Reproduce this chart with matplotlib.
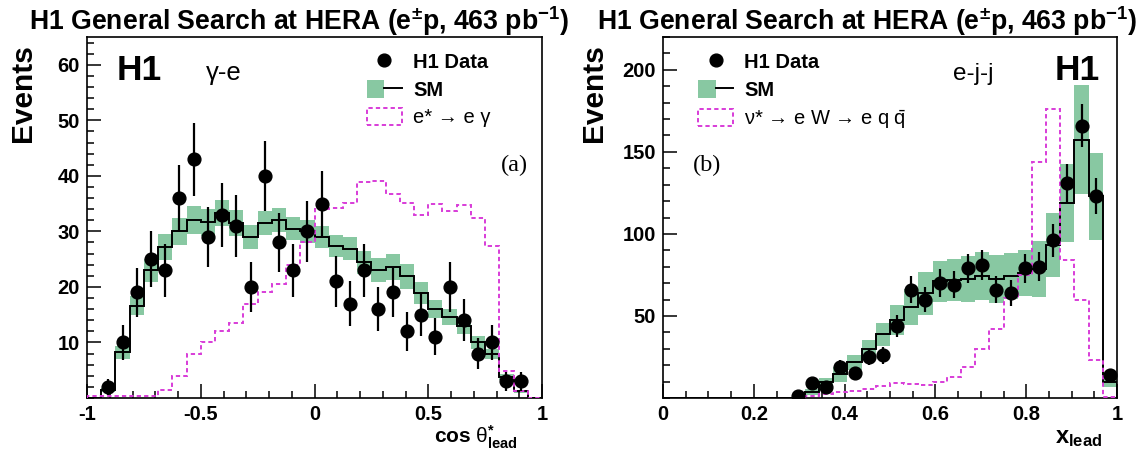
import numpy as np
import matplotlib
matplotlib.use('Agg')
import matplotlib.pyplot as plt
from matplotlib.patches import Patch
from matplotlib.lines import Line2D
from matplotlib.legend_handler import HandlerTuple
from matplotlib.ticker import MultipleLocator, FixedLocator

plt.rcParams['font.family'] = ['Liberation Sans', 'DejaVu Sans']
plt.rcParams['mathtext.fontset'] = 'custom'
plt.rcParams['mathtext.rm'] = 'Liberation Sans'
plt.rcParams['mathtext.it'] = 'Liberation Sans:italic'
plt.rcParams['mathtext.bf'] = 'Liberation Sans:bold'
plt.rcParams['mathtext.sf'] = 'Liberation Sans'

GREEN = '#88c8a2'
MAGENTA = '#d83cd8'

# ---------------- Panel (a): gamma-e, cos theta*_lead ----------------
a_edges = np.linspace(-1, 1, 33)
a_data = [0, 2, 10, 19, 25, 23, 36, 43, 29, 33, 31, 20, 40, 28, 23, 30,
          35, 21, 17, 23, 16, 19, 12, 15, 11, 20, 14, 8, 10, 3, 3, 0]
a_sm = [0, 1.4, 8.2, 16.6, 23.0, 27.2, 30.0, 32.0, 31.6, 33.3, 31.5, 29.0,
        31.5, 32.0, 30.5, 30.0, 29.0, 27.4, 26.9, 24.4, 23.0, 23.6, 21.9,
        18.9, 16.0, 14.6, 12.9, 10.0, 8.0, 3.8, 1.2, 0]
a_sm_err = [0, 0.4, 1.2, 1.7, 2.1, 2.4, 2.5, 2.5, 2.4, 2.3, 2.3, 2.2, 2.2,
            2.2, 2.1, 2.1, 2.0, 2.0, 2.0, 2.1, 2.2, 2.3, 2.2, 2.0, 1.6,
            1.4, 1.3, 1.1, 0.9, 0.5, 0.3, 0]
a_sig = [0.3, 0.3, 0.3, 0.3, 0.3, 1.5, 4.0, 8.0, 10.0, 12.0, 13.5, 17.0,
         19.0, 20.6, 24.0, 28.0, 34.0, 34.3, 35.1, 38.9, 39.0, 36.8, 35.1,
         33.0, 35.0, 33.6, 34.8, 32.4, 27.4, 4.8, 1.2, 0]

# ---------------- Panel (b): e-j-j, x_lead ----------------
b_edges = np.linspace(0, 1, 33)
b_data = [0, 0, 0, 0, 0, 0, 0, 0, 0, 1, 9, 7, 19, 15, 25, 26, 44, 66, 60,
          70, 69, 79, 81, 66, 64, 79, 80, 96, 131, 166, 123, 14]
b_sm = [0, 0, 0, 0, 0, 0, 0, 0, 0, 0, 3.7, 9.8, 14.5, 21.7, 29.8, 38.8,
        47.5, 55.6, 63.8, 71.0, 72.0, 72.7, 74.2, 72.5, 74.2, 76.2, 78.5,
        93.3, 118.8, 157.5, 123.0, 9.8]
b_sm_err = [0, 0, 0, 0, 0, 0, 0, 0, 0, 0, 2.0, 2.5, 4.5, 4.5, 5.5, 7.0,
            9.0, 11.0, 13.0, 12.7, 13.0, 14.0, 14.7, 14.5, 14.0, 14.0, 17.0,
            19.4, 24.0, 33.0, 26.5, 3.0]
b_sig = [0, 0, 0, 0, 0, 0, 0, 0, 0, 0, 1.5, 2.5, 3.5, 4.5, 5.5, 7.5, 9.0,
         8.5, 8.0, 10.0, 13.0, 19.0, 30.0, 42.0, 61.0, 75.0, 144.0, 176.0,
         84.0, 60.0, 23.0, 0.6]

W, H = 1145, 458
fig = plt.figure(figsize=(W / 100, H / 100), dpi=100)


def px_axes(x0, y0, x1, y1):
    return fig.add_axes([x0 / W, 1 - y1 / H, (x1 - x0) / W, (y1 - y0) / H])


ax1 = px_axes(87, 37, 542, 398)
ax2 = px_axes(663, 37, 1117, 398)


def draw_panel(ax, edges, data, sm, sm_err, sig, sig_start=0):
    edges = np.asarray(edges)
    data = np.asarray(data, float)
    sm = np.asarray(sm, float)
    sm_err = np.asarray(sm_err, float)
    sig = np.asarray(sig, float)
    widths = np.diff(edges)
    centers = 0.5 * (edges[:-1] + edges[1:])
    m = sm_err > 0
    ax.bar(edges[:-1][m], 2 * sm_err[m], bottom=(sm - sm_err)[m],
           width=widths[m], align='edge', color=GREEN, edgecolor='none',
           zorder=1)
    ax.stairs(sm, edges, color='black', lw=1.4, zorder=2)
    ax.stairs(sig[sig_start:], edges[sig_start:], color=MAGENTA, lw=1.4,
              linestyle=(0, (2.2, 1.6)), zorder=3)
    d = data > 0
    ax.errorbar(centers[d], data[d], yerr=np.sqrt(data[d]), fmt='o',
                color='black', markersize=9.2, elinewidth=1.6, capsize=0,
                zorder=4)


draw_panel(ax1, a_edges, a_data, a_sm, a_sm_err, a_sig)
first_sig = int(np.nonzero(np.asarray(b_sig) > 0)[0][0])
draw_panel(ax2, b_edges, b_data, b_sm, b_sm_err, b_sig, sig_start=first_sig)

ax1.set_xlim(-1, 1)
ax1.set_ylim(0, 65)
ax2.set_xlim(0, 1)
ax2.set_ylim(0, 220)

ax1.xaxis.set_major_locator(FixedLocator([-1, -0.5, 0, 0.5, 1]))
ax1.xaxis.set_minor_locator(MultipleLocator(0.1))
ax1.yaxis.set_major_locator(FixedLocator([10, 20, 30, 40, 50, 60]))
ax1.yaxis.set_minor_locator(MultipleLocator(2))
ax1.set_xticklabels(['-1', '-0.5', '0', '0.5', '1'])

ax2.xaxis.set_major_locator(FixedLocator([0, 0.2, 0.4, 0.6, 0.8, 1.0]))
ax2.xaxis.set_minor_locator(MultipleLocator(0.05))
ax2.yaxis.set_major_locator(FixedLocator([50, 100, 150, 200]))
ax2.yaxis.set_minor_locator(MultipleLocator(10))
ax2.set_xticklabels(['0', '0.2', '0.4', '0.6', '0.8', '1'])

for ax in (ax1, ax2):
    for s in ax.spines.values():
        s.set_linewidth(1.2)
    ax.tick_params(which='both', direction='in', top=False, right=False,
                   width=1.1, labelsize=14.5)
    ax.tick_params(which='major', length=10, pad=5)
    ax.tick_params(which='minor', length=5)
    for lab in ax.get_xticklabels() + ax.get_yticklabels():
        lab.set_fontweight('bold')

# Titles
title = r"H1 General Search at HERA (e$^{\mathbf{\pm}}$p, 463 pb$^{\mathbf{-1}}$)"
fig.text(299 / W, 1 - 4 / H, title, ha='center', va='top', fontsize=19.2,
         fontweight='bold')
fig.text(867 / W, 1 - 4 / H, title, ha='center', va='top', fontsize=19.2,
         fontweight='bold')

# Y labels
fig.text(23 / W, 1 - 44 / H, 'Events', rotation=90, ha='center', va='top',
         fontsize=21.5, fontweight='bold')
fig.text(594 / W, 1 - 44 / H, 'Events', rotation=90, ha='center', va='top',
         fontsize=21.5, fontweight='bold')

# X labels
fig.text(518 / W, 1 - 443 / H, r"cos $\mathrm{\theta}^{\mathbf{*}}_{\mathbf{lead}}$",
         ha='right', va='baseline', fontsize=15, fontweight='bold')
fig.text(1102 / W, 1 - 443 / H, r"$\mathbf{x}_{\mathbf{lead}}$",
         ha='right', va='baseline', fontsize=17, fontweight='bold')

# In-panel text
ax1.text(0.066, 0.881, 'H1', transform=ax1.transAxes, fontsize=25.5,
         fontweight='bold', va='baseline', ha='left')
ax1.text(0.262, 0.881, 'γ-e', transform=ax1.transAxes, fontsize=18.5,
         va='baseline', ha='left')
ax1.text(0.969, 0.628, '(a)', transform=ax1.transAxes, fontsize=17.5,
         family='Liberation Serif', va='baseline', ha='right')

ax2.text(0.639, 0.881, 'e-j-j', transform=ax2.transAxes, fontsize=17.5,
         va='baseline', ha='left')
ax2.text(0.962, 0.881, 'H1', transform=ax2.transAxes, fontsize=25.5,
         fontweight='bold', va='baseline', ha='right')
ax2.text(0.066, 0.628, '(b)', transform=ax2.transAxes, fontsize=17.5,
         family='Liberation Serif', va='baseline', ha='left')


# Legends
def make_legend(ax, sig_label, x_anchor):
    h_data = Line2D([], [], marker='o', color='black', linestyle='none',
                    markersize=9.2)
    h_sm = (Patch(facecolor=GREEN, edgecolor='none'),
            Line2D([], [], color='black', lw=1.4))
    h_sig = Patch(facecolor='none', edgecolor=MAGENTA, linewidth=1.4,
                  linestyle=(0, (2.2, 1.6)))
    leg = ax.legend([h_data, h_sm, h_sig], ['H1 Data', 'SM', sig_label],
                    handler_map={tuple: HandlerTuple(ndivide=None, pad=0)},
                    loc='upper left', bbox_to_anchor=(x_anchor, 0.957),
                    frameon=False, fontsize=14.5, borderpad=0,
                    borderaxespad=0, handlelength=1.75, handleheight=0.95,
                    handletextpad=0.55, labelspacing=0.4)
    texts = leg.get_texts()
    texts[0].set_fontweight('bold')
    texts[1].set_fontweight('bold')
    return leg


make_legend(ax1, 'e* → e γ', 0.615)
make_legend(ax2, r'ν* → e W → e q $\mathrm{\bar{q}}$', 0.077)

fig.savefig('out.png', dpi=100)
